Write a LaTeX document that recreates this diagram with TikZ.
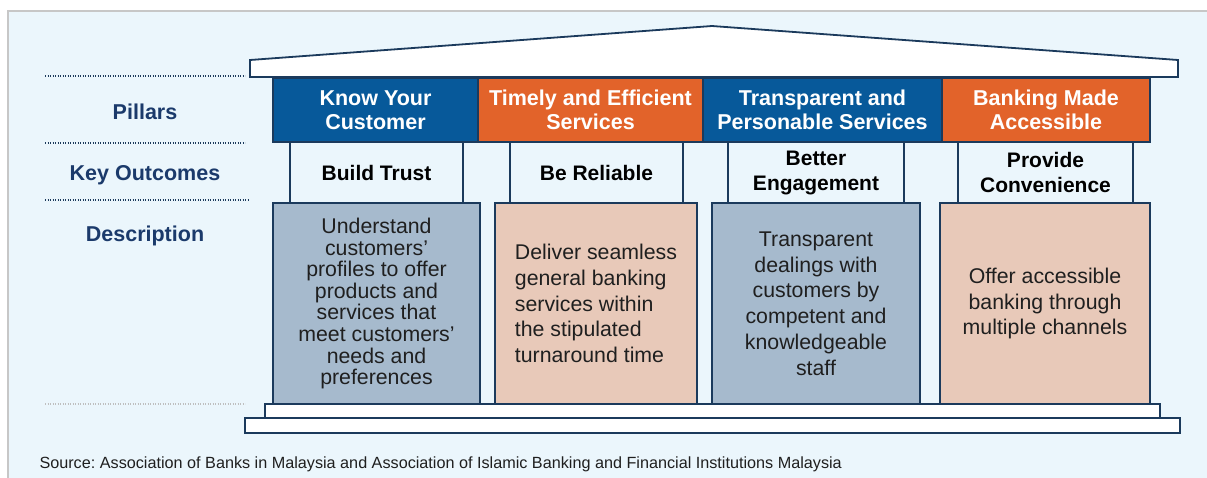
\documentclass[tikz,border=0pt]{standalone}
\usepackage{fontspec}
\setmainfont{Liberation Sans}
\usepackage{tikz}

\definecolor{navy}{HTML}{1B3A5C}
\definecolor{panel}{HTML}{EBF6FC}
\definecolor{kblue}{HTML}{07599A}
\definecolor{korange}{HTML}{E2632A}
\definecolor{dgrey}{HTML}{A6BACD}
\definecolor{dpeach}{HTML}{E8C9B9}
\definecolor{ltext}{HTML}{1B3A6B}

\begin{document}
\frenchspacing
\begin{tikzpicture}[x=1pt,y=-1pt,
  pillar/.style={draw=navy,line width=1.8pt,minimum height=64pt,inner sep=0pt,text=white,align=center,font=\bfseries\fontsize{21.5}{24}\selectfont},
  outcome/.style={draw=navy,fill=panel,line width=1.8pt,minimum height=61pt,inner sep=0pt,align=center,font=\bfseries\fontsize{21}{25}\selectfont},
  desc/.style={draw=navy,line width=1.8pt,minimum height=201pt,inner sep=0pt,align=center,text=black!88,font=\fontsize{21.3}{25.8}\selectfont},
  rowlabel/.style={text=ltext,font=\bfseries\fontsize{21.5}{24}\selectfont},
  sep/.style={line width=2pt,dash pattern=on 1.3pt off 1.2pt,navy}]
      \tikzstyle{base}=[draw=navy,fill=white,line width=1.8pt]

     \useasboundingbox (0,0) rectangle (1207,477);
     % background panel
     \path[fill=panel,draw=black!22,line width=1.5pt] (8,11) rectangle (1215,485);

     % row labels and separators
     \node [rowlabel] (L1) at (145,112) {Pillars};
     \node [rowlabel] (L2) at (145,175) {Key Outcomes};
     \node [rowlabel] (L3) at (145,236) {Description};
     \draw [sep] (45,76) -- (245,76);
     \draw [sep] (45,143) -- (245,143);
     \draw [sep] (45,200) -- (248,200);
     \draw [sep,black!25] (45,404) -- (245,404);

     % roof and base
     \draw [base] (250,77) -- (250,60) -- (712,26) -- (1178,60) -- (1178,77) -- cycle;
     \draw [base] (245,418) rectangle (1180,433);
     \draw [base] (265,404) rectangle (1160,418);

     % descriptions
     \node [desc,fill=dgrey,minimum width=207pt,font=\fontsize{21.3}{21.6}\selectfont] (D1) at (376.5,303.5)
       {Understand\\customers’\\profiles to offer\\products and\\services that\\meet customers’\\needs and\\preferences};
     \node [desc,fill=dpeach,minimum width=202pt,align=left] (D2) at (596,303.5)
       {Deliver seamless\\general banking\\services within\\the stipulated\\turnaround time};
     \node [desc,fill=dgrey,minimum width=208pt] (D3) at (816,303.5)
       {Transparent\\dealings with\\customers by\\competent and\\knowledgeable\\staff};
     \node [desc,fill=dpeach,minimum width=210pt] (D4) at (1045,303.5)
       {Offer accessible\\banking through\\multiple channels};

     % key outcomes
     \node [outcome,minimum width=173pt] (K1) at (376.5,172.5) {Build Trust};
     \node [outcome,minimum width=173pt] (K2) at (596.5,172.5) {Be Reliable};
     \node [outcome,minimum width=176pt] (K3) at (816,172.5) {Better\\Engagement};
     \node [outcome,minimum width=175pt] (K4) at (1045.5,172.5) {Provide\\Convenience};

     % pillars
     \node [pillar,fill=kblue,minimum width=205pt] (P1) at (375.5,110) {Know Your\\Customer};
     \node [pillar,fill=korange,minimum width=225pt] (P2) at (590.5,110) {Timely and Efficient\\Services};
     \node [pillar,fill=kblue,minimum width=239pt] (P3) at (822.5,110) {Transparent and\\Personable Services};
     \node [pillar,fill=korange,minimum width=208pt] (P4) at (1046,110) {Banking Made\\Accessible};

     \node [anchor=west,text=black!88,font=\fontsize{16.2}{18}\selectfont] (S) at (36,464)
       {Source: Association of Banks in Malaysia and Association of Islamic Banking and Financial Institutions Malaysia};

  \end{tikzpicture}
\end{document}
